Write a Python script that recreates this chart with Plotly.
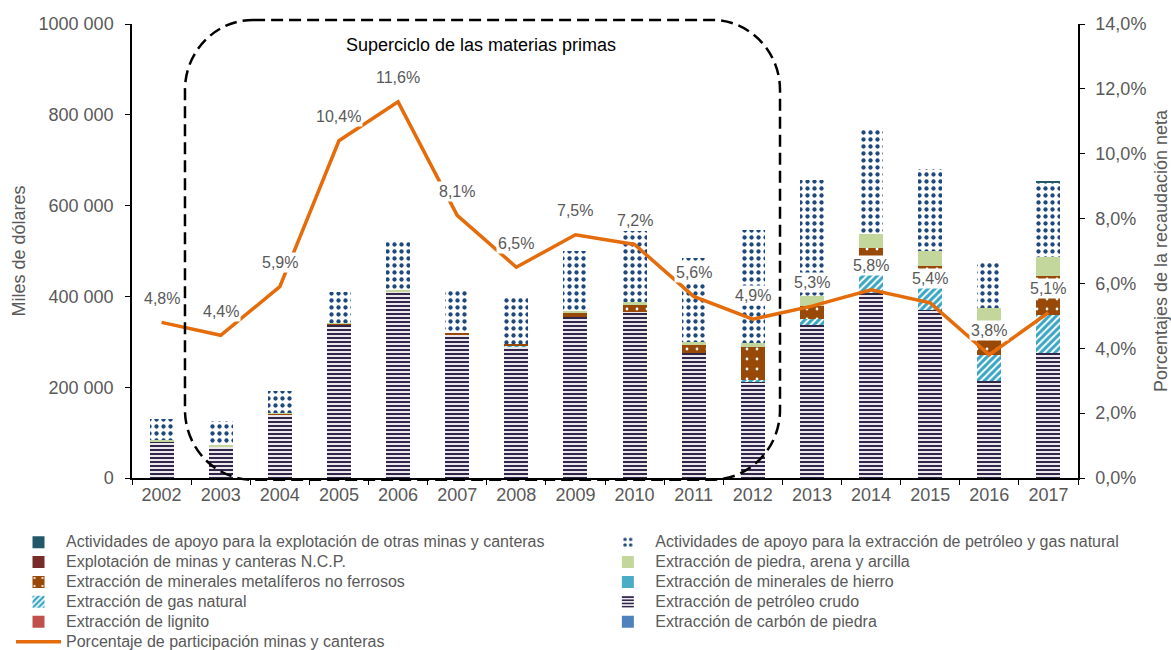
import plotly.graph_objects as go

# ---------------- data ----------------
years = ["2002", "2003", "2004", "2005", "2006", "2007", "2008", "2009",
         "2010", "2011", "2012", "2013", "2014", "2015", "2016", "2017"]

petroleo_crudo = [79400, 68400, 140500, 339000, 410000, 314800, 289000, 353800,
                  366200, 274400, 211800, 336900, 406800, 370000, 213300, 274400]
gas_natural = [0, 0, 0, 0, 0, 0, 2000, 0,
               0, 0, 5100, 12500, 60000, 65000, 57400, 84600]
metaliferos = [1600, 1300, 1000, 1000, 1000, 4400, 5100, 10300,
               14700, 18300, 70600, 29400, 39300, 32700, 55100, 86100]
minerales_hierro = [0, 0, 0, 0, 0, 0, 0, 0, 0, 0, 0, 0, 0, 0, 0, 0]
lignito = [0, 0, 0, 0, 0, 0, 0, 0, 0, 0, 0, 0, 0, 0, 0, 0]
carbon_piedra = [0, 0, 0, 0, 0, 0, 0, 0, 0, 0, 0, 0, 0, 0, 0, 0]
explotacion_ncp = [0, 0, 0, 0, 0, 0, 0, 0, 0, 0, 0, 0, 0, 0, 0, 0]
piedra_arena = [2000, 2000, 2500, 2500, 3500, 0, 0, 4400,
                7300, 6000, 10300, 22000, 30900, 33100, 47800, 42600]
apoyo_petroleo = [48000, 54000, 48000, 66500, 108500, 96400, 101900, 131600,
                  156700, 185300, 248600, 255000, 233800, 179500, 105100, 162900]
apoyo_otras = [0, 0, 0, 0, 0, 0, 0, 0, 0, 0, 0, 0, 0, 0, 0, 2500]

porcentaje = [4.8, 4.4, 5.9, 10.4, 11.6, 8.1, 6.5, 7.5,
              7.2, 5.6, 4.9, 5.3, 5.8, 5.4, 3.8, 5.1]

y_tickvals = [0, 200000, 400000, 600000, 800000, 1000000]
y_ticktext = ["0", "200 000", "400 000", "600 000", "800 000", "1000 000"]
y2_tickvals = [0, 2, 4, 6, 8, 10, 12, 14]
y2_ticktext = ["0,0%", "2,0%", "4,0%", "6,0%", "8,0%", "10,0%", "12,0%", "14,0%"]

GRAY = "#595959"
FONT = "Liberation Sans, Arial, sans-serif"


def leg(name):
    return '<span style="font-size:16px">' + name + "</span>"


fig = go.Figure()


def add_bar(values, name, legend, rank, color, pattern=None):
    marker = dict(color=color, opacity=1, line=dict(width=0))
    if pattern is not None:
        pattern = dict(pattern, fgopacity=1, fillmode="replace")
        marker["pattern"] = pattern
    fig.add_trace(go.Bar(x=years, y=values, name=leg(name), marker=marker,
                         legend=legend, legendrank=rank, yaxis="y"))


# stacking order bottom -> top
add_bar(petroleo_crudo, "Extracción de petróleo crudo", "legend2", 4, "#3F3151",
        dict(shape="-", fgcolor="#33264B", bgcolor="white", size=4, solidity=0.55))
add_bar(gas_natural, "Extracción de gas natural", "legend", 4, "#4BACC6",
        dict(shape="/", fgcolor="#3AA6C4", bgcolor="white", size=5, solidity=0.6))
add_bar(metaliferos, "Extracción de minerales metalíferos no ferrosos", "legend", 3, "#984807",
        dict(shape=".", fgcolor="white", bgcolor="#984807", size=10, solidity=0.06))
add_bar(minerales_hierro, "Extracción de minerales de hierro", "legend2", 3, "#4BACC6")
add_bar(lignito, "Extracción de lignito", "legend", 5, "#C0504D")
add_bar(carbon_piedra, "Extracción de carbón de piedra", "legend2", 5, "#4F81BD")
add_bar(explotacion_ncp, "Explotación de minas y canteras N.C.P.", "legend", 2, "#772C2A")
add_bar(piedra_arena, "Extracción de piedra, arena y arcilla", "legend2", 2, "#C3D69B")
add_bar(apoyo_petroleo, "Actividades de apoyo para la extracción de petróleo y gas natural",
        "legend2", 1, "#1F497D",
        dict(shape=".", fgcolor="#1F497D", bgcolor="white", size=7, solidity=0.3))
add_bar(apoyo_otras, "Actividades de apoyo para la explotación de otras minas y canteras",
        "legend", 1, "#215968")

fig.add_trace(go.Scatter(x=years, y=porcentaje, mode="lines", yaxis="y2",
                         name=leg("Porcentaje de participación minas y canteras"),
                         line=dict(color="#E46C0A", width=3.5),
                         legend="legend", legendrank=6))

# data labels of the line (x given as category index)
for i, v in enumerate(porcentaje):
    fig.add_annotation(x=i, y=v, xref="x", yref="y2",
                       text=f"{v:.1f}%".replace(".", ","), showarrow=False,
                       yshift=24, bgcolor="white", borderpad=1,
                       font=dict(size=16, color=GRAY, family=FONT))

# rounded dashed box "Superciclo"
x0, x1 = 0.056, 0.685
y0, y1 = -0.004, 1.009
rx, ry = 0.072, 0.154
k = 0.45
path = (f"M {x0+rx},{y1} L {x1-rx},{y1} "
        f"C {x1-rx*k},{y1} {x1},{y1-ry*k} {x1},{y1-ry} "
        f"L {x1},{y0+ry} "
        f"C {x1},{y0+ry*k} {x1-rx*k},{y0} {x1-rx},{y0} "
        f"L {x0+rx},{y0} "
        f"C {x0+rx*k},{y0} {x0},{y0+ry*k} {x0},{y0+ry} "
        f"L {x0},{y1-ry} "
        f"C {x0},{y1-ry*k} {x0+rx*k},{y1} {x0+rx},{y1} Z")
fig.add_shape(type="path", path=path, xref="paper", yref="paper",
              line=dict(color="black", width=2.5, dash="12px,6px"),
              fillcolor="rgba(0,0,0,0)", layer="above")
fig.add_annotation(x=0.369, y=0.954, xref="paper", yref="paper",
                   xanchor="center", yanchor="middle",
                   text="Superciclo de las materias primas", showarrow=False,
                   font=dict(size=18, color="black", family=FONT))

axis_common = dict(showline=True, linecolor="black", linewidth=1.5, ticks="outside",
                   ticklen=5, tickcolor="black", tickwidth=1.2, showgrid=False,
                   zeroline=False, automargin=False,
                   tickfont=dict(size=18, color=GRAY, family=FONT))

fig.update_layout(
    width=1171, height=650, autosize=False,
    margin=dict(l=132, r=93, t=24, b=172, pad=0),
    barmode="stack", bargap=0.593,
    plot_bgcolor="white", paper_bgcolor="white",
    font=dict(family=FONT, color=GRAY),
    xaxis=dict(type="category", tickson="boundaries", **axis_common),
    yaxis=dict(range=[0, 1000000], tickvals=y_tickvals, ticktext=y_ticktext,
               ticklabelstandoff=8,
               title=dict(text="Miles de dólares", font=dict(size=18, color=GRAY, family=FONT),
                          standoff=8),
               **axis_common),
    yaxis2=dict(range=[0, 14], tickvals=y2_tickvals, ticktext=y2_ticktext,
                overlaying="y", side="right", ticklabelstandoff=7,
                title=dict(text="Porcentajes de la recaudación neta",
                           font=dict(size=18, color=GRAY, family=FONT), standoff=16),
                **axis_common),
    legend=dict(xref="paper", yref="container", x=-0.1279, y=0.1889,
                xanchor="left", yanchor="top", orientation="v", traceorder="normal",
                itemwidth=45, font=dict(size=13, color=GRAY, family=FONT),
                bgcolor="rgba(0,0,0,0)", itemclick=False),
    legend2=dict(xref="paper", yref="container", x=0.4951, y=0.1889,
                 xanchor="left", yanchor="top", orientation="v", traceorder="normal",
                 itemwidth=45, font=dict(size=13, color=GRAY, family=FONT),
                 bgcolor="rgba(0,0,0,0)", itemclick=False),
)

fig.write_html("out.html", config={"displayModeBar": False},
               post_script="document.body.style.margin='0';")
